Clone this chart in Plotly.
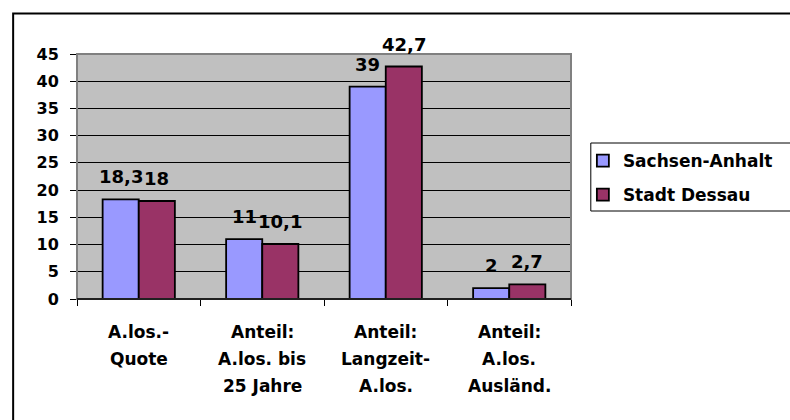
import plotly.graph_objects as go

categories = ["A.los.-\nQuote", "Anteil:\nA.los. bis\n25 Jahre", "Anteil:\nLangzeit-\nA.los.", "Anteil:\nA.los.\nAusländ."]
series_names = ["Sachsen-Anhalt", "Stadt Dessau"]
sachsen_anhalt = [18.3, 11, 39, 2]
stadt_dessau = [18, 10.1, 42.7, 2.7]
value_labels_sa = ["18,3", "11", "39", "2"]
value_labels_sd = ["18", "10,1", "42,7", "2,7"]
y_ticks = [0, 5, 10, 15, 20, 25, 30, 35, 40, 45]
subtitle = "(Angaben in %)"

W, H = 790, 420
L, R, T, B = 77, 576, 54, 299
pw, ph = R - L, B - T

def px(x):
    return (x - L) / pw

def py(y):
    return (B - y) / ph

BOLD = dict(family="DejaVu Sans", weight="bold", color="black")
bargap = 0.415
off = (1 - bargap) / 4

x_idx = list(range(len(categories)))

fig = go.Figure()
fig.add_trace(go.Bar(x=x_idx, y=sachsen_anhalt, name=series_names[0], legendgroup="a",
                     marker=dict(color="#9999FF", line=dict(color="black", width=1.8))))
fig.add_trace(go.Bar(x=x_idx, y=stadt_dessau, name=series_names[1], legendgroup="b",
                     marker=dict(color="#993366", line=dict(color="black", width=1.8))))

ann = []
for i, (v, t) in enumerate(zip(sachsen_anhalt, value_labels_sa)):
    ann.append(dict(x=i - off, y=v, xref="x", yref="y", text=t, showarrow=False,
                    yanchor="bottom", yshift=10, font=dict(size=18, **BOLD)))
for i, (v, t) in enumerate(zip(stadt_dessau, value_labels_sd)):
    ann.append(dict(x=i + off, y=v, xref="x", yref="y", text=t, showarrow=False,
                    yanchor="bottom", yshift=10, font=dict(size=18, **BOLD)))
for i, c in enumerate(categories):
    for j, line in enumerate(c.split("\n")):
        ann.append(dict(x=i, y=0, xref="x", yref="paper", text=line, showarrow=False,
                        yanchor="middle", yshift=-33 - 27 * j, font=dict(size=17, **BOLD)))
ann.append(dict(x=px(583), y=py(2), xref="paper", yref="paper", text=subtitle, showarrow=False,
                xanchor="left", yanchor="bottom",
                font=dict(family="Liberation Serif", size=21, color="black")))

shapes = [
    dict(type="rect", xref="paper", yref="paper", x0=0, x1=1, y0=0, y1=1,
         line=dict(color="#808080", width=2), layer="above"),
    dict(type="line", xref="paper", yref="paper", x0=0, x1=1, y0=0, y1=0,
         line=dict(color="black", width=1.5), layer="above"),
    dict(type="rect", xref="paper", yref="paper", x0=px(596), x1=px(820), y0=py(211), y1=py(143),
         line=dict(color="black", width=1)),
    dict(type="rect", xref="paper", yref="paper", x0=px(12.5), x1=px(830), y0=py(440), y1=py(13.5),
         line=dict(color="black", width=2)),
]

fig.update_layout(
    width=W, height=H,
    margin=dict(l=L, r=W - R, t=T, b=H - B, pad=0),
    paper_bgcolor="white", plot_bgcolor="#C0C0C0",
    barmode="group", bargap=bargap, bargroupgap=0,
    showlegend=True,
    legend=dict(x=px(588), y=py(143), xanchor="left", yanchor="top",
                font=dict(size=17, **BOLD), tracegroupgap=9,
                bgcolor="rgba(0,0,0,0)", borderwidth=0, traceorder="grouped"),
    annotations=ann, shapes=shapes,
    xaxis=dict(type="linear", range=[-0.5, len(categories) - 0.5], tickvals=[i - 0.5 for i in range(len(categories) + 1)],
               ticks="outside", ticklen=6, tickcolor="black", tickwidth=1,
               showticklabels=False, showgrid=False, zeroline=False, showline=False),
    yaxis=dict(range=[0, 45], tickvals=y_ticks, ticks="outside", ticklen=6, tickcolor="black",
               tickwidth=1, ticklabelstandoff=8, tickfont=dict(size=16, **BOLD),
               showgrid=True, gridcolor="black", gridwidth=1, zeroline=False, showline=False),
)

fig.write_html("out.html", config={"displayModeBar": False},
               post_script="document.body.style.margin='0';document.body.style.overflow='hidden';")
